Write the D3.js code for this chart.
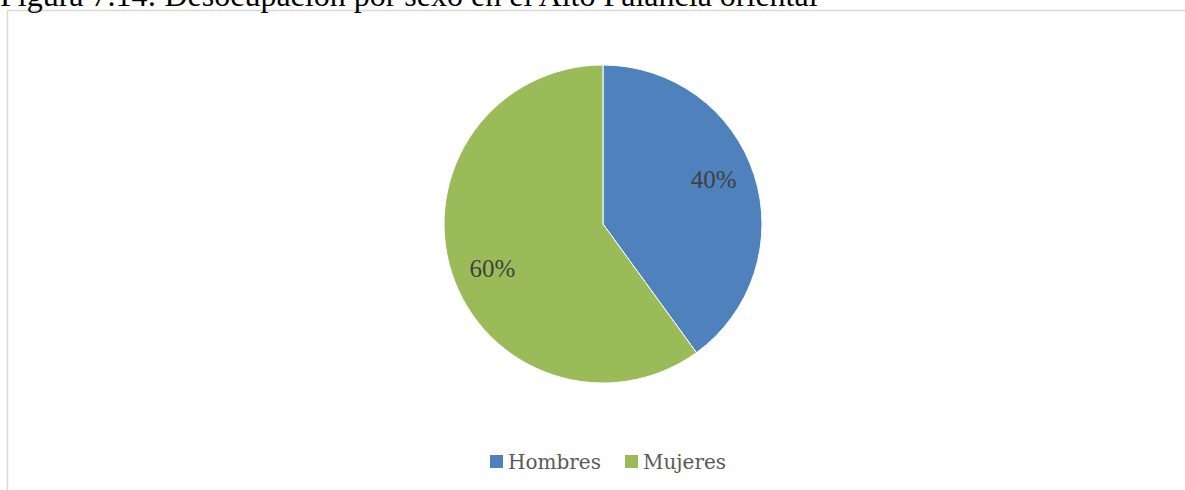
<html>
<head>
<meta charset="utf-8">
<style>
    body { margin: 0; background: #fff; }
</style>
</head>
<body>
    <svg id="chart"></svg>
</body>
<script src="https://cdnjs.cloudflare.com/ajax/libs/d3/7.8.5/d3.min.js"></script>
<script>
    const categories = ["Hombres", "Mujeres"];
    const values = [40, 60];
    const colors = ["#4F81BD", "#9BBB59"];
    const title = "Figura 7.14: Desocupación por sexo en el Alto Palancia oriental";

    const width = 1185,
        height = 490;

    const svg = d3.select('#chart')
        .attr('width', width)
        .attr('height', height);

    // chart frame (bottom runs off the page)
    svg.append('rect')
        .attr('x', 7.5).attr('y', 10.5)
        .attr('width', width).attr('height', height)
        .attr('fill', 'none')
        .attr('stroke', '#d9d9d9')
        .attr('stroke-width', 1.5);

    // title, cut off at the top like in the source page
    svg.append('text')
        .attr('x', 0).attr('y', 6)
        .attr('font-family', '"Liberation Serif", serif')
        .attr('font-size', 32)
        .attr('fill', '#000')
        .text(title);

    const cx = 603, cy = 224, r = 159;
    const color = d3.scaleOrdinal().domain(categories).range(colors);

    const pie = d3.pie().sort(null).value(d => d.value);
    const data = pie(categories.map((c, i) => ({ name: c, value: values[i] })));
    const total = d3.sum(values);

    const arc = d3.arc().innerRadius(0).outerRadius(r);
    const labelArc = d3.arc().innerRadius(r * 0.75).outerRadius(r * 0.75);

    const g = svg.append('g').attr('transform', `translate(${cx},${cy})`);

    g.selectAll('path')
        .data(data)
        .enter().append('path')
        .attr('d', arc)
        .attr('fill', d => color(d.data.name))
        .attr('stroke', '#fff')
        .attr('stroke-width', 1);

    // labels sit a little before the slice middle, like Excel does
    g.selectAll('text')
        .data(data)
        .enter().append('text')
        .attr('transform', d => {
            const a = (d.startAngle + d.endAngle) / 2 - 0.07;
            const rr = r * 0.75;
            return `translate(${rr * Math.sin(a)},${-rr * Math.cos(a)})`;
        })
        .attr('text-anchor', 'middle')
        .attr('dy', '0.35em')
        .attr('font-family', '"Liberation Serif", serif')
        .attr('font-size', 25)
        .attr('fill', '#404040')
        .text(d => Math.round(d.data.value / total * 100) + '%');

    // legend
    const legendX = [490, 625];
    const legend = svg.append('g');
    const items = legend.selectAll('g')
        .data(categories)
        .enter().append('g')
        .attr('transform', (d, i) => `translate(${legendX[i]},455)`);

    items.append('rect')
        .attr('width', 13).attr('height', 13)
        .attr('fill', d => color(d));

    items.append('text')
        .attr('x', 18).attr('y', 14)
        .attr('font-family', '"DejaVu Serif", serif')
        .attr('font-size', 20)
        .attr('fill', '#595959')
        .text(d => d);
</script>
</html>
